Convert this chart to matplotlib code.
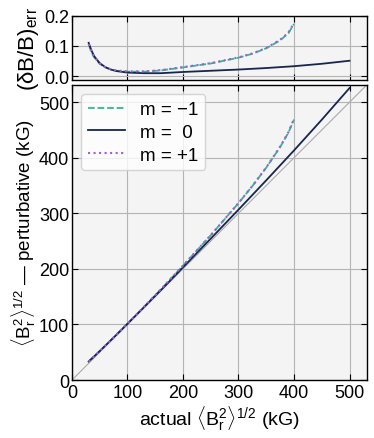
import matplotlib
matplotlib.use("Agg")
import matplotlib.pyplot as plt
import numpy as np

plt.rcParams['font.family'] = ['Liberation Sans', 'DejaVu Sans']
plt.rcParams['mathtext.fontset'] = 'custom'
plt.rcParams['mathtext.rm'] = 'Liberation Sans'
plt.rcParams['mathtext.it'] = 'Liberation Sans'
plt.rcParams['mathtext.bf'] = 'Liberation Sans:bold'

# actual <B_r^2>^1/2 (kG) and relative error
actual_m0 = [30, 35, 40, 50, 60, 70, 80, 100, 130, 160, 200, 250, 300, 350, 400, 450, 500]
err_m0 = [0.11, 0.085, 0.066, 0.043, 0.030, 0.022, 0.017, 0.012, 0.010, 0.010, 0.014,
          0.018, 0.022, 0.027, 0.033, 0.041, 0.051]

actual_m1 = [30, 35, 40, 50, 60, 70, 80, 100, 130, 160, 200, 250, 300, 325, 350, 375, 390, 400]
err_minus1 = [0.105, 0.08, 0.062, 0.041, 0.029, 0.022, 0.018, 0.015, 0.015, 0.019, 0.029,
              0.042, 0.061, 0.074, 0.092, 0.118, 0.142, 0.172]
err_plus1 = [0.106, 0.081, 0.063, 0.042, 0.030, 0.023, 0.019, 0.016, 0.016, 0.020, 0.030,
             0.043, 0.062, 0.075, 0.093, 0.120, 0.144, 0.175]

labels = ["m = \u22121", "m =  0", "m = +1"]
colors = ["#2cba8c", "#17264d", "#a45dd4"]

a0 = np.array(actual_m0)
a1 = np.array(actual_m1)
pert_m0 = a0 * (1 + np.array(err_m0))
pert_minus1 = a1 * (1 + np.array(err_minus1))
pert_plus1 = a1 * (1 + np.array(err_plus1))

fig = plt.figure(figsize=(3.74, 4.39), dpi=100)
ax_top = fig.add_axes([0.1925, 0.8144, 0.788, 0.148])
ax = fig.add_axes([0.1925, 0.1321, 0.788, 0.672])

for a in (ax_top, ax):
    a.set_facecolor("#f4f4f4")
    a.grid(True, color="#b4b4b4", linewidth=0.8)
    a.set_axisbelow(True)
    a.tick_params(direction="in", top=True, right=True, labelsize=13, length=4, pad=2)
    for s in a.spines.values():
        s.set_linewidth(1.0)

# top panel: error
ax_top.plot(actual_m1, err_minus1, color=colors[0], ls="--", lw=1.3)
ax_top.plot(actual_m0, err_m0, color=colors[1], ls="-", lw=1.3)
ax_top.plot(actual_m1, err_plus1, color=colors[2], ls=":", lw=1.5)
ax_top.set_xlim(0, 531)
ax_top.set_ylim(-0.014, 0.2)
ax_top.set_yticks([0.0, 0.1, 0.2])
ax_top.set_xticks([0, 100, 200, 300, 400, 500])
ax_top.tick_params(labelbottom=False)
ax_top.set_ylabel(r"$(\delta$B/B$)_{\rm err}$", fontsize=16, labelpad=2)

# bottom panel: perturbative vs actual
ax.plot([0, 531], [0, 531], color="#aaaaaa", lw=0.8)
ax.plot(actual_m1, pert_minus1, color=colors[0], ls="--", lw=1.3, label=labels[0])
ax.plot(actual_m0, pert_m0, color=colors[1], ls="-", lw=1.3, label=labels[1])
ax.plot(actual_m1, pert_plus1, color=colors[2], ls=":", lw=1.5, label=labels[2])
ax.set_xlim(0, 531)
ax.set_ylim(0, 531)
ax.set_xticks([0, 100, 200, 300, 400, 500])
ax.set_yticks([0, 100, 200, 300, 400, 500])
ax.tick_params(axis="x", pad=3)
ax.set_xlabel(r"actual $\langle$B$_{\rm r}^2\rangle^{1/2}$ (kG)", fontsize=14, labelpad=2)
ax.set_ylabel(r"$\langle$B$_{\rm r}^2\rangle^{1/2}$" + " \u2014 perturbative (kG)",
              fontsize=13.5, labelpad=1)
ax.legend(loc="upper left", fontsize=13.5, frameon=True, handlelength=2.0,
          borderpad=0.35, labelspacing=0.3, handletextpad=0.8, fancybox=True,
          bbox_to_anchor=(0.0, 1.0), borderaxespad=0.5)

fig.savefig("out.png", dpi=100)
